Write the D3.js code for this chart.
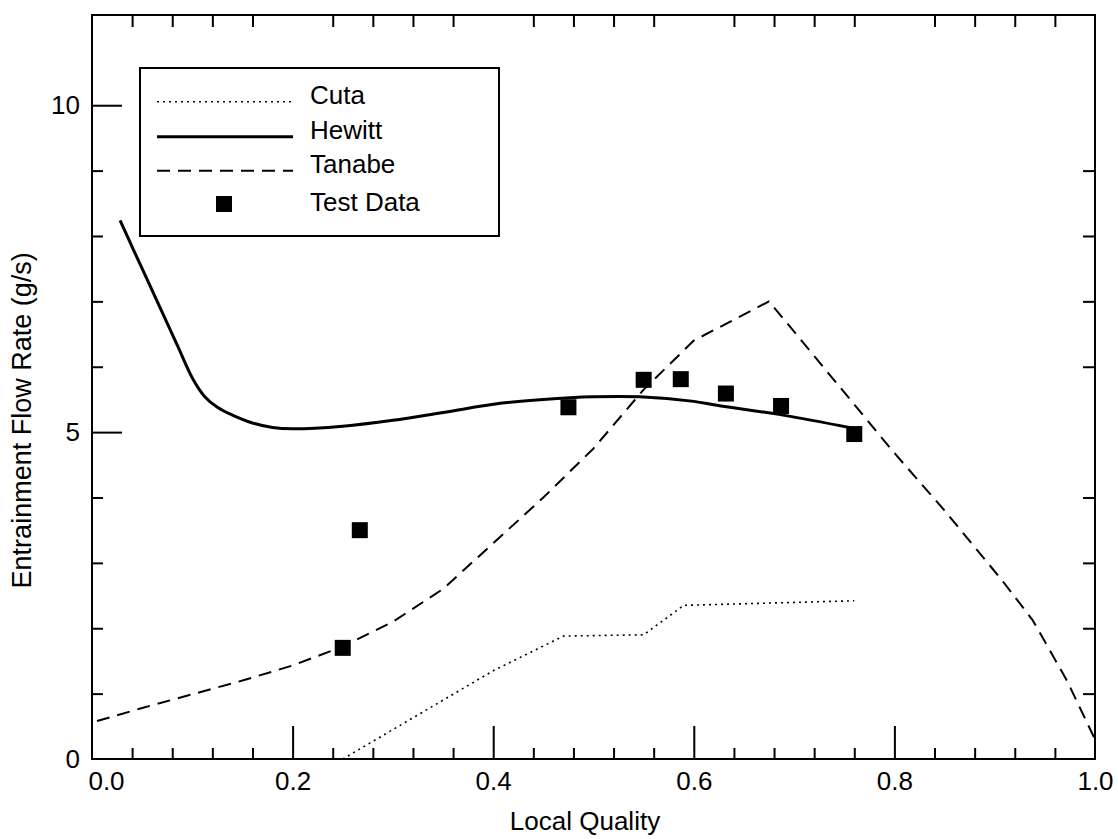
<!DOCTYPE html>
<html>
<head>
<meta charset="utf-8">
<script src="https://cdn.jsdelivr.net/npm/d3@7"></script>
<style>
  html, body { margin: 0; padding: 0; background: #fff; }
  svg { display: block; font-family: "Liberation Sans", Arial, Helvetica, sans-serif; }
  .axis text { font-size: 26px; fill: #000; }
  .axis line { stroke: #000; stroke-width: 2px; }
  .axis path.domain { display: none; }
</style>
</head>
<body>
<svg id="chart" width="1118" height="839"></svg>
<script>
// Model curves: [local quality, entrainment flow rate (g/s)]
const cutaCurve = [
  [0.25, 0.0], [0.30, 0.45], [0.35, 0.90], [0.40, 1.35], [0.47, 1.88],
  [0.55, 1.90], [0.59, 2.35], [0.76, 2.42]
];
const hewittCurve = [
  [0.028, 8.24], [0.041, 7.80], [0.065, 7.00], [0.085, 6.33], [0.101, 5.80],
  [0.112, 5.55], [0.125, 5.38], [0.14, 5.26], [0.16, 5.14], [0.18, 5.07],
  [0.20, 5.05], [0.25, 5.09], [0.30, 5.18], [0.35, 5.30], [0.407, 5.44],
  [0.45, 5.50], [0.50, 5.54], [0.546, 5.54], [0.60, 5.47], [0.623, 5.41],
  [0.689, 5.26], [0.755, 5.07]
];
const tanabeCurve = [
  [0.005, 0.58], [0.05, 0.78], [0.10, 0.99], [0.15, 1.20], [0.20, 1.43],
  [0.25, 1.72], [0.30, 2.10], [0.35, 2.60], [0.40, 3.30], [0.45, 4.00],
  [0.50, 4.75], [0.55, 5.65], [0.60, 6.40], [0.675, 7.00], [0.80, 4.68],
  [0.85, 3.80], [0.907, 2.74], [0.938, 2.12], [0.972, 1.20], [1.00, 0.30]
];
// Measured points
const testQuality = [0.250, 0.267, 0.475, 0.550, 0.587, 0.632, 0.687, 0.760];
const testFlow    = [1.70, 3.50, 5.38, 5.80, 5.81, 5.59, 5.40, 4.97];

// Axis ticks
const xMajorTicks = [0, 0.2, 0.4, 0.6, 0.8, 1.0];
const xTickLabels = ["0.0", "0.2", "0.4", "0.6", "0.8", "1.0"];
const xMinorTicks = d3.range(1, 25).map(i => +(i * 0.04).toFixed(2)).filter(v => Math.abs(v * 5 - Math.round(v * 5)) > 1e-6);
const yMajorTicks = [0, 5, 10];
const yTickLabels = ["0", "5", "10"];
const yMinorTicks = [1, 2, 3, 4, 6, 7, 8, 9];

const legendItems = [
  { label: "Cuta", type: "cuta" },
  { label: "Hewitt", type: "hewitt" },
  { label: "Tanabe", type: "tanabe" },
  { label: "Test Data", type: "marker" }
];

const svg = d3.select("#chart");
const plotLeft = 92, plotRight = 1095, plotTop = 15, plotBottom = 759;

const x = d3.scaleLinear().domain([0, 1]).range([plotLeft, plotRight]);
const y = d3.scaleLinear().domain([0, 11.38]).range([plotBottom, plotTop]);

const styles = {
  cuta:   { width: 1.6, dash: "2,4" },
  hewitt: { width: 3,   dash: null },
  tanabe: { width: 2,   dash: "13,8" }
};

// Bottom axis: long inward major ticks with labels, short minor ticks
const bottomMajor = svg.append("g").attr("class", "axis")
  .attr("transform", `translate(0,${plotBottom})`)
  .call(d3.axisBottom(x).tickValues(xMajorTicks).tickSize(-33).tickPadding(13)
    .tickFormat((d, i) => xTickLabels[i]));
bottomMajor.selectAll(".tick").filter(d => d === 0 || d === 1).select("line").remove();
bottomMajor.selectAll(".tick").filter(d => d === 0).select("text").attr("dx", 14);

svg.append("g").attr("class", "axis")
  .attr("transform", `translate(0,${plotBottom})`)
  .call(d3.axisBottom(x).tickValues(xMinorTicks).tickSize(-11).tickFormat(""));

// Top axis: minor ticks only
svg.append("g").attr("class", "axis")
  .attr("transform", `translate(0,${plotTop})`)
  .call(d3.axisTop(x).tickValues(xMinorTicks).tickSize(-12).tickFormat(""));

// Left axis
const leftMajor = svg.append("g").attr("class", "axis")
  .attr("transform", `translate(${plotLeft},0)`)
  .call(d3.axisLeft(y).tickValues(yMajorTicks).tickSize(-30).tickPadding(12)
    .tickFormat((d, i) => yTickLabels[i]));
leftMajor.selectAll(".tick").filter(d => d === 0).select("line").remove();

svg.append("g").attr("class", "axis")
  .attr("transform", `translate(${plotLeft},0)`)
  .call(d3.axisLeft(y).tickValues(yMinorTicks).tickSize(-11).tickFormat(""));

// Right axis: minor ticks only
svg.append("g").attr("class", "axis")
  .attr("transform", `translate(${plotRight},0)`)
  .call(d3.axisRight(y).tickValues(yMinorTicks).tickSize(-12).tickFormat(""));

// Frame
svg.append("rect")
  .attr("x", plotLeft).attr("y", plotTop)
  .attr("width", plotRight - plotLeft).attr("height", plotBottom - plotTop)
  .attr("fill", "none").attr("stroke", "#000").attr("stroke-width", 2);

// Axis titles
svg.append("text")
  .attr("x", 585).attr("y", 830)
  .attr("text-anchor", "middle")
  .attr("font-size", 26)
  .text("Local Quality");

svg.append("text")
  .attr("transform", `translate(31,${y(5.18)}) rotate(-90)`)
  .attr("text-anchor", "middle")
  .attr("font-size", 27)
  .text("Entrainment Flow Rate (g/s)");

// Curves
const lineLinear = d3.line().x(d => x(d[0])).y(d => y(d[1]));
const lineSmooth = d3.line().x(d => x(d[0])).y(d => y(d[1])).curve(d3.curveCatmullRom.alpha(0.5));

function styled(sel, s) {
  sel.attr("fill", "none").attr("stroke", "#000")
    .attr("stroke-width", s.width)
    .attr("stroke-linejoin", "round");
  if (s.dash) sel.attr("stroke-dasharray", s.dash);
  return sel;
}

styled(svg.append("path").attr("d", lineLinear(cutaCurve)), styles.cuta);
styled(svg.append("path").attr("d", lineSmooth(hewittCurve)), styles.hewitt);
styled(svg.append("path").attr("d", lineLinear(tanabeCurve)), styles.tanabe);

// Test data markers
const markerSize = 16;
svg.append("g").selectAll("rect")
  .data(testQuality.map((q, i) => [q, testFlow[i]]))
  .join("rect")
  .attr("x", d => x(d[0]) - markerSize / 2)
  .attr("y", d => y(d[1]) - markerSize / 2)
  .attr("width", markerSize).attr("height", markerSize)
  .attr("fill", "#000");

// Legend
const legend = svg.append("g");
legend.append("rect")
  .attr("x", 140).attr("y", 68).attr("width", 359).attr("height", 168)
  .attr("fill", "#fff").attr("stroke", "#000").attr("stroke-width", 2);

const rowY = [101.7, 136.7, 170.7, 204];
const textY = [104, 139, 173, 211];
legendItems.forEach((item, i) => {
  if (item.type === "marker") {
    legend.append("rect")
      .attr("x", 224 - markerSize / 2).attr("y", rowY[i] - markerSize / 2)
      .attr("width", markerSize).attr("height", markerSize)
      .attr("fill", "#000");
  } else {
    styled(legend.append("line")
      .attr("x1", 157).attr("x2", 293)
      .attr("y1", rowY[i]).attr("y2", rowY[i]), styles[item.type]);
  }
  legend.append("text")
    .attr("x", 310).attr("y", textY[i])
    .attr("font-size", 26)
    .text(item.label);
});
</script>
</body>
</html>
